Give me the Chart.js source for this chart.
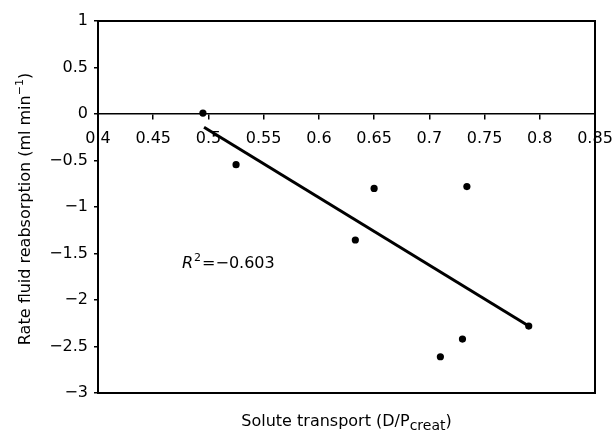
<!DOCTYPE html>
<html>
<head>
<meta charset="utf-8">
<script src="https://cdn.jsdelivr.net/npm/chart.js@4"></script>
<style>
  html, body { margin: 0; padding: 0; background: #fff; }
  #wrap { width: 613px; height: 432px; }
</style>
</head>
<body>
<div id="wrap"><canvas id="c" width="613" height="432"></canvas></div>
<script>
// ---- data ----
const soluteTransport = [0.495, 0.525, 0.633, 0.650, 0.710, 0.730, 0.734, 0.790];
const fluidReabsorption = [0.01, -0.545, -1.355, -0.80, -2.61, -2.42, -0.78, -2.28];
const trendX = [0.496, 0.790];
const trendY = [-0.143, -2.28];
const xTicks = [0.4, 0.45, 0.5, 0.55, 0.6, 0.65, 0.7, 0.75, 0.8, 0.85];
const yTicks = [1, 0.5, 0, -0.5, -1, -1.5, -2, -2.5, -3];
const xTitle = ['Solute transport (D/P', 'creat', ')'];
const yTitle = ['Rate fluid reabsorption (ml min', '\u22121', ')'];
const rSquared = '\u22120.603';

const FONT = '"DejaVu Sans", "Liberation Sans", Arial, sans-serif';
const fmt = v => {
  const r = Math.round(v * 100) / 100;
  return String(r).replace('-', '\u2212');
};

const points = soluteTransport.map((x, i) => ({ x, y: fluidReabsorption[i] }));
const trend = trendX.map((x, i) => ({ x, y: trendY[i] }));

const decor = {
  id: 'decor',
  afterDraw(chart) {
    const { ctx, chartArea: a } = chart;
    ctx.save();
    ctx.strokeStyle = '#000';
    ctx.lineWidth = 2;
    ctx.strokeRect(a.left, a.top, a.right - a.left, a.bottom - a.top);
    ctx.fillStyle = '#000';
    ctx.textBaseline = 'alphabetic';

    // x title with subscript
    const big = '16px ' + FONT, small = '14px ' + FONT;
    ctx.font = big; const w1 = ctx.measureText(xTitle[0]).width;
    const w3 = ctx.measureText(xTitle[2]).width;
    ctx.font = small; const w2 = ctx.measureText(xTitle[1]).width;
    let x = (a.left + a.right) / 2 - (w1 + w2 + w3) / 2;
    const by = 426;
    ctx.textAlign = 'left';
    ctx.font = big; ctx.fillText(xTitle[0], x, by); x += w1;
    ctx.font = small; ctx.fillText(xTitle[1], x, by + 4); x += w2;
    ctx.font = big; ctx.fillText(xTitle[2], x, by);

    // y title rotated with superscript
    ctx.save();
    ctx.translate(30, (a.top + a.bottom) / 2 + 2);
    ctx.rotate(-Math.PI / 2);
    const sup = '11px ' + FONT;
    ctx.font = big; const v1 = ctx.measureText(yTitle[0]).width;
    const v3 = ctx.measureText(yTitle[2]).width;
    ctx.font = sup; const v2 = ctx.measureText(yTitle[1]).width;
    let t = -(v1 + v2 + v3) / 2;
    ctx.font = big; ctx.fillText(yTitle[0], t, 0); t += v1;
    ctx.font = sup; ctx.fillText(yTitle[1], t, -7); t += v2;
    ctx.font = big; ctx.fillText(yTitle[2], t, 0);
    ctx.restore();

    // R^2 annotation
    let rx = 182; const ry = 268;
    ctx.font = 'italic 16px ' + FONT; ctx.fillText('R', rx, ry); rx += ctx.measureText('R').width + 1;
    ctx.font = sup; ctx.fillText('2', rx, ry - 7); rx += ctx.measureText('2').width + 1;
    ctx.font = big; ctx.fillText('=' + rSquared, rx, ry);
    ctx.restore();
  }
};

new Chart(document.getElementById('c'), {
  type: 'scatter',
  data: {
    datasets: [
      {
        type: 'line',
        data: trend,
        borderColor: '#000',
        borderWidth: 3,
        pointRadius: 0,
        showLine: true,
        fill: false
      },
      {
        data: points,
        backgroundColor: '#000',
        borderColor: '#000',
        borderWidth: 0,
        pointRadius: 3.6,
        pointHoverRadius: 3.6
      }
    ]
  },
  options: {
    responsive: false,
    animation: false,
    events: [],
    layout: { padding: { top: 21, right: 18, bottom: 39, left: 0 } },
    plugins: { legend: { display: false }, tooltip: { enabled: false } },
    scales: {
      x: {
        type: 'linear',
        position: { y: 0 },
        min: 0.4, max: 0.85,
        afterBuildTicks: s => { s.ticks = xTicks.map(v => ({ value: v })); },
        afterFit: s => { s.paddingLeft = 0; s.paddingRight = 0; },
        ticks: { color: '#000', font: { size: 16, family: FONT }, padding: 10, callback: fmt, maxRotation: 0, autoSkip: false },
        grid: { drawOnChartArea: false, drawTicks: true, tickLength: 5, color: '#000', lineWidth: 1.5 },
        border: { display: true, color: '#000', width: 1.5 }
      },
      y: {
        type: 'linear',
        position: 'left',
        min: -3, max: 1,
        afterBuildTicks: s => { s.ticks = yTicks.map(v => ({ value: v })); },
        afterFit: s => { s.width = 98; },
        ticks: { color: '#000', font: { size: 16, family: FONT }, padding: 6, callback: fmt, autoSkip: false },
        grid: { drawOnChartArea: false, drawTicks: true, tickLength: 4, color: '#000', lineWidth: 1.5 },
        border: { display: true, color: '#000', width: 2 }
      }
    }
  },
  plugins: [decor]
});
</script>
</body>
</html>
